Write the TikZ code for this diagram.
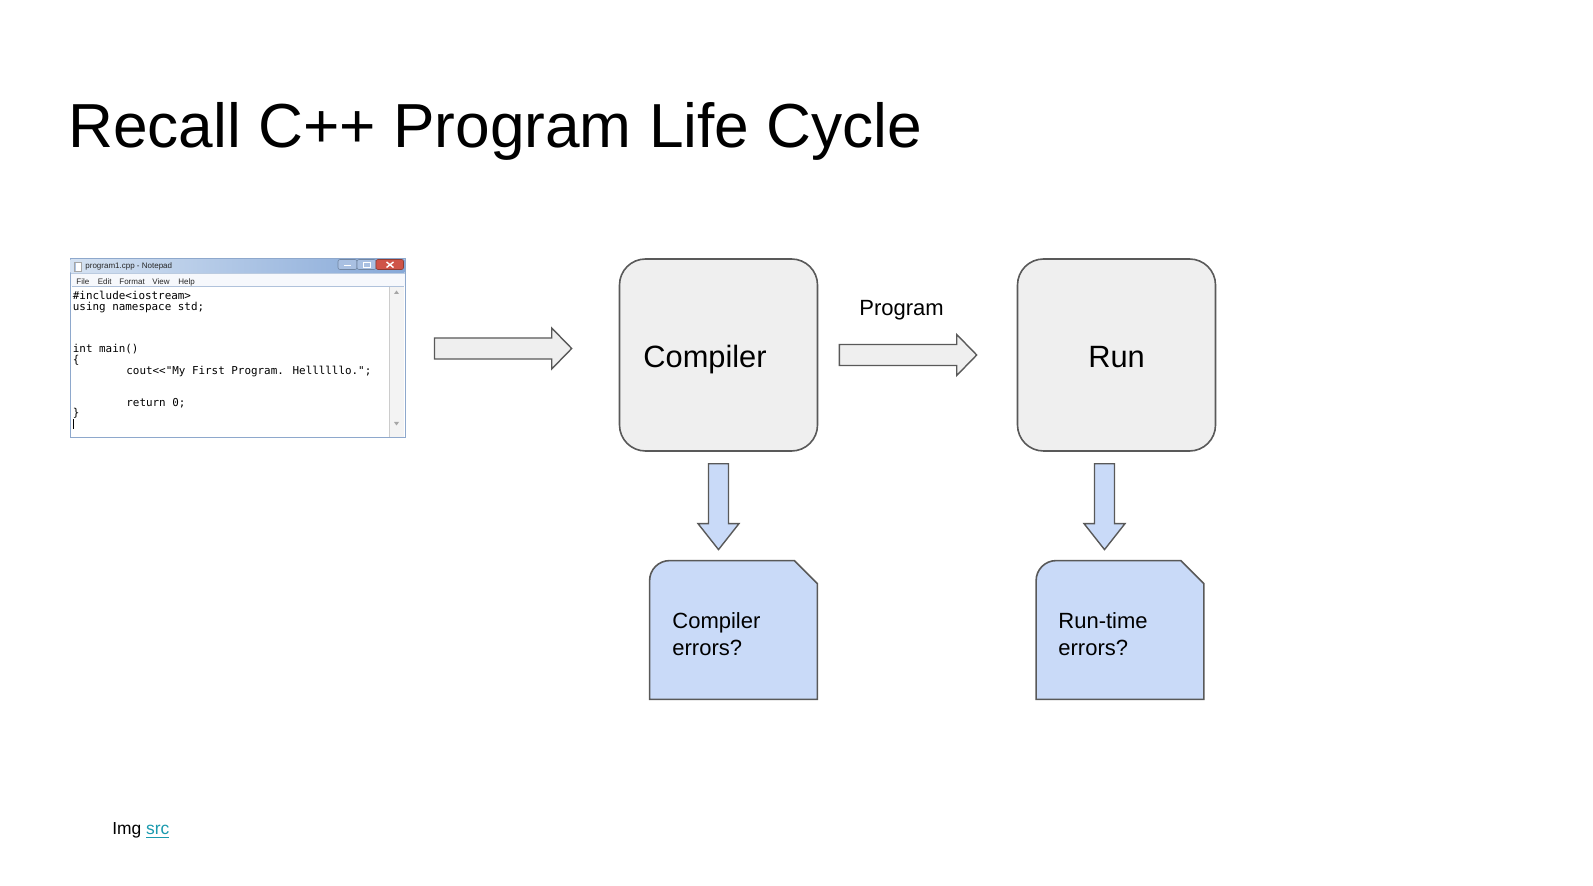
\documentclass[tikz,border=0pt]{standalone}
\usepackage{fontspec}
\setmainfont{Liberation Sans}
\newfontfamily\codefont{DejaVu Sans Mono}
\usetikzlibrary{calc}

\definecolor{boxgray}{HTML}{EFEFEF}
\definecolor{edge}{HTML}{595959}
\definecolor{errblue}{HTML}{C9DAF8}
\definecolor{linkteal}{HTML}{1A9AAE}
\definecolor{winframe}{HTML}{8EA8CC}
\definecolor{titleleft}{HTML}{D5E2F2}
\definecolor{titleright}{HTML}{87A9D8}
\definecolor{menubg}{HTML}{F6F8FC}
\definecolor{btnblue}{HTML}{A9C0E2}
\definecolor{btnred}{HTML}{CF5448}
\definecolor{scrollbg}{HTML}{F3F3F3}

% horizontal block arrow: tail point, tip point, style
\newcommand\rightblock[3]{%
  \draw[#3] let \p1=(#1), \p2=(#2) in
    (\x1,\y1-5.25pt) -- (\x2-10pt,\y1-5.25pt) -- (\x2-10pt,\y1-10.25pt)
    -- (\x2,\y1) -- (\x2-10pt,\y1+10.25pt) -- (\x2-10pt,\y1+5.25pt)
    -- (\x1,\y1+5.25pt) -- cycle;}
% vertical block arrow pointing down: tail point, tip point, style
\newcommand\downblock[3]{%
  \draw[#3] let \p1=(#1), \p2=(#2) in
    (\x1-5pt,\y1) -- (\x1-5pt,\y2+13pt) -- (\x1-10.25pt,\y2+13pt)
    -- (\x1,\y2) -- (\x1+10.25pt,\y2+13pt) -- (\x1+5pt,\y2+13pt)
    -- (\x1+5pt,\y1) -- cycle;}

\begin{document}
\begin{tikzpicture}[x=0.5pt,y=-0.5pt,
  stage/.style={draw=edge, line width=0.8pt, fill=boxgray, rounded corners=13pt,
    minimum width=99pt, minimum height=96pt, inner sep=0pt},
  slot/.style={draw=none, minimum width=83.5pt, minimum height=69pt, inner sep=0pt},
  errbox/.style={draw=edge, line width=0.8pt, fill=errblue},
  grayarrow/.style={draw=edge, line width=0.7pt, fill=boxgray},
  bluearrow/.style={draw=edge, line width=0.7pt, fill=errblue},
  txt/.style={inner sep=0pt, anchor=base west},
  code/.style={txt, font=\codefont\fontsize{5.45}{6}\selectfont},
  wintxt/.style={txt, font=\fontsize{4}{5}\selectfont, text=black!85},
  big/.style={font=\fontsize{15.4}{18}\selectfont},
  mid/.style={font=\fontsize{11}{13.5}\selectfont},
]
\useasboundingbox (0,0) rectangle (1593,886);
\fill[white] (0,0) rectangle (1593,886);

% heading
\node[txt, font=\fontsize{31.1}{37}\selectfont] (title) at (68,148) {Recall C++ Program Life Cycle};

% ---- editor window with the source file ----
\node[draw=winframe, line width=0.5pt, fill=white, minimum width=167.5pt,
      minimum height=89.5pt, inner sep=0pt] (note) at (237.5,348.5) {};
\shade[left color=titleleft, right color=titleright] (70.5,259.5) rectangle (404.5,273);
\fill[menubg] (70.5,273) rectangle (404.5,286.5);
\draw[winframe!60, line width=0.3pt] (70.5,273) -- (404.5,273);
\draw[winframe!70, line width=0.4pt] (71.5,286.5) -- (403.5,286.5);
% window icon
\fill[white] (74,262) rectangle (81,271);
\fill[titleright!70] (74,262) rectangle (76,271);
\draw[gray!70, line width=0.2pt] (74,262) rectangle (81,271);
\node[wintxt] (wtitle) at (85,268.5) {program1.cpp - Notepad};
% caption buttons
\draw[winframe!80!black, fill=btnblue, line width=0.3pt, rounded corners=1pt] (338,259.5) rectangle (357,269.5);
\draw[winframe!80!black, fill=btnblue, line width=0.3pt, rounded corners=1pt] (357,259.5) rectangle (376,269.5);
\draw[btnred!70!black, fill=btnred, line width=0.3pt, rounded corners=1pt] (376,259.5) rectangle (403.5,269.5);
\draw[white, line width=0.5pt] (344,266) -- (351,266);
\draw[white, line width=0.4pt] (363,262) rectangle (370,267);
\draw[white, line width=0.7pt] (386.5,262) -- (393.5,267.5) (386.5,267.5) -- (393.5,262);
% menu
\node[wintxt] (mfile) at (76,284.5) {File};
\node[wintxt] (medit) at (97.5,284.5) {Edit};
\node[wintxt] (mformat) at (119,284.5) {Format};
\node[wintxt] (mview) at (152,284.5) {View};
\node[wintxt] (mhelp) at (178,284.5) {Help};
% scroll bar
\fill[scrollbg] (389,287) rectangle (404,437.5);
\draw[gray!40, line width=0.3pt] (389,287) -- (389,437.5);
\fill[gray!70] (394,294) -- (399,294) -- (396.5,290.5) -- cycle;
\fill[gray!70] (394,422) -- (399,422) -- (396.5,425.5) -- cycle;
% source text
\node[code] (c1) at (72.5,300) {\#include<iostream>};
\node[code] (c2) at (72.5,310.5) {using namespace std;};
\node[code] (c3) at (72.5,353) {int main()};
\node[code] (c4) at (72.5,364) {\{};
\node[code] (c5) at (126,375) {cout<<"My First Program. Hellllllo.";};
\node[code] (c6) at (126,407) {return 0;};
\node[code] (c7) at (72.5,417) {\}};
\draw[black, line width=0.4pt] (73,419) -- (73,429);

% ---- stages ----
\node[stage] (comp) at (718.5,355) {};
\node[txt, big] (comptxt) at (643,367.5) {Compiler};
\node[stage] (run) at (1116.5,355) {};
\node[inner sep=0pt, anchor=base, big] (runtxt) at (1116.5,367.5) {Run};

\node[txt, mid] (prog) at (859,316) {Program};

% ---- error notes ----
\node[slot] (cerr) at (733.5,630) {};
\node[slot] (rerr) at (1120,630) {};
\foreach \n in {cerr,rerr}{
  \draw[errbox] (\n.south west) -- ($(\n.north west)+(0,20)$)
    arc[start angle=180, end angle=90, radius=10pt]
    -- ($(\n.north east)+(-23,0)$) -- ($(\n.north east)+(0,23)$)
    -- (\n.south east) -- cycle;
}
% the base anchor of these two-line nodes is the baseline of the last line
\node[txt, mid, align=left] (cerrtxt) at (672,655) {Compiler\\errors?};
\node[txt, mid, align=left] (rerrtxt) at (1058,655) {Run-time\\errors?};

% ---- flow arrows ----
\coordinate (a1tail) at ($(note.east)+(29,0)$);
\coordinate (a1tip) at ($(comp.west |- note.east)+(-47,0)$);
\rightblock{a1tail}{a1tip}{grayarrow}
\coordinate (a2tail) at ($(comp.east)+(21,0)$);
\coordinate (a2tip) at ($(run.west)+(-40,0)$);
\rightblock{a2tail}{a2tip}{grayarrow}
\coordinate (d1tail) at ($(comp.south)+(0,12)$);
\coordinate (d1tip) at ($(comp.south |- cerr.north)+(0,-11)$);
\downblock{d1tail}{d1tip}{bluearrow}
\coordinate (d2tail) at ($(run.south)+(-12,12)$);
\coordinate (d2tip) at ($(run.south |- rerr.north)+(-12,-11)$);
\downblock{d2tail}{d2tip}{bluearrow}

% source credit
\node[txt, font=\fontsize{8.7}{10}\selectfont] (credit) at (112,834)
  {Img \textcolor{linkteal}{\underline{src}}};
\end{tikzpicture}
\end{document}
